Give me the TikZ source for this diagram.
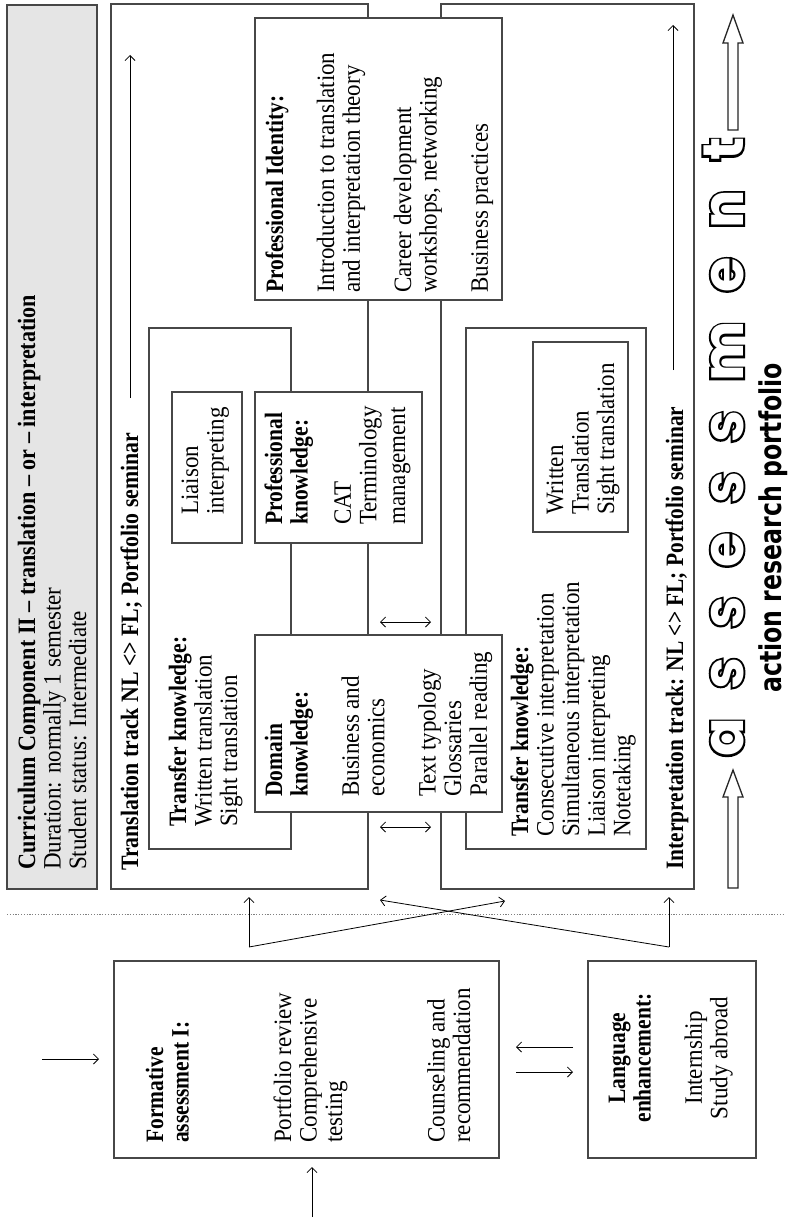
\documentclass[tikz,border=0pt]{standalone}
\usepackage{fontspec}
\usepackage{graphicx}
\setmainfont{Liberation Serif}[UprightFeatures={FakeStretch=0.92}, BoldFeatures={FakeStretch=0.86}]
\newfontfamily\wordfont{Poppins}
\newfontfamily\wordrim{Poppins}[BoldFeatures={FakeBold=7}]
\newfontfamily\tagfont{DejaVu Sans}
\usetikzlibrary{arrows.meta}
\newcommand\textlines[1]{\begin{tabular}[t]{@{}l@{}}#1\end{tabular}}
\newcommand\textlinesc[1]{\begin{tabular}[t]{@{}c@{}}#1\end{tabular}}
\newcommand\assessword{\hbox to 619pt{a\hfill s\hfill s\hfill e\hfill s\hfill s\hfill m\hfill e\hfill n\hfill t}}

\begin{document}
\begin{tikzpicture}[x=1pt,y=-1pt,
  box/.style={draw=black!72, line width=1.1pt, fill=white, inner sep=0pt, outer sep=0pt, anchor=north west},
  lbl/.style={rotate=90, anchor=base west, inner sep=0pt, font=\fontsize{25}{25.6}\selectfont},
  lblc/.style={lbl, anchor=base},
  con/.style={line width=0.8pt, -{Straight Barb[length=5pt,width=10pt]}},
  dcon/.style={line width=0.8pt, {Straight Barb[length=5pt,width=10pt]}-{Straight Barb[length=5pt,width=10pt]}},
  hollow/.style={draw=black!85, line width=1.3pt, fill=white, line join=miter}
]
\useasboundingbox (0,0) rectangle (793,1220);
\fill[white] (0,0) rectangle (793,1220);

% frames of the two tracks and the header
\node[box, fill=black!10, minimum width=90pt, minimum height=884pt] (cc) at (7,5) {};
\node[box, minimum width=257pt, minimum height=885pt] (trans) at (111,4) {};
\node[box, minimum width=253pt, minimum height=885pt] (interp) at (441,4) {};
\node[box, minimum width=142pt, minimum height=521pt] (transIn) at (149,328) {};
\node[box, minimum width=180pt, minimum height=521pt] (interpIn) at (466,328) {};
\node[box, minimum width=70pt, minimum height=151pt] (liaison) at (172,392) {};
\node[box, minimum width=95pt, minimum height=190pt] (written) at (533,342) {};
% shared blocks lying across both tracks
\node[box, minimum width=247pt, minimum height=282pt] (ident) at (255,18) {};
\node[box, minimum width=167pt, minimum height=151pt] (profk) at (255,392) {};
\node[box, minimum width=247pt, minimum height=177pt] (domain) at (255,635) {};
% first-stage blocks
\node[box, minimum width=385pt, minimum height=197pt] (form) at (114,961) {};
\node[box, minimum width=168pt, minimum height=197pt] (lang) at (588,961) {};

% texts
\node[lbl] (ccT) at (35,870) {\textlines{\resizebox{575pt}{\height}{\textbf{Curriculum Component II – translation – or – interpretation}}\\Duration: normally 1 semester\\Student status: Intermediate}};
\node[lbl] (transT) at (138,871) {\resizebox{438pt}{\height}{\textbf{Translation track NL <> FL; Portfolio seminar}}};
\node[lbl] (transInT) at (186,827) {\textlines{\textbf{Transfer knowledge:}\\Written translation\\Sight translation}};
\node[lbl] (liaisonT) at (198,515) {\textlines{Liaison\\interpreting}};
\node[lbl] (profkT) at (282,525) {\textlines{\textbf{Professional}\\\textbf{knowledge:}\\[-8pt] \\CAT\\Terminology\\[3pt]management}};
\node[lbl] (domainT) at (282,797) {\textlines{\textbf{Domain}\\\textbf{knowledge:}\\ \\Business and\\economics\\ \\Text typology\\Glossaries\\Parallel reading}};
\node[lbl] (identT) at (283,293) {\textlines{\textbf{Professional Identity:}\\ \\Introduction to translation\\and interpretation theory\\ \\Career development\\workshops, networking\\ \\Business practices}};
\node[lbl] (interpInT) at (528,837) {\textlines{\textbf{Transfer knowledge:}\\Consecutive interpretation\\Simultaneous interpretation\\Liaison interpreting\\Notetaking}};
\node[lbl] (writtenT) at (563,515) {\textlines{Written\\Translation\\Sight translation}};
\node[lbl] (interpT) at (683,870) {\resizebox{463pt}{\height}{\textbf{Interpretation track: NL <> FL; Portfolio seminar}}};
\node[lbl] (formT) at (163,1143) {\textlines{\textbf{Formative}\\\textbf{assessment I:}\\ \\ \\ \\Portfolio review\\Comprehensive\\testing\\ \\ \\ \\Counseling and\\recommendation}};
\node[lblc] (langT) at (625,1058) {\textlinesc{\textbf{Language}\\\textbf{enhancement:}\\ \\Internship\\Study abroad}};

% flow arrows inside the tracks
\coordinate (tA) at (130,398); \coordinate (tB) at (130,55);
\draw[con] (tA) -- (tB);
\coordinate (iA) at (673,370); \coordinate (iB) at (673,25);
\draw[con] (iA) -- (iB);

% exchange between the tracks
\coordinate (rowC) at (0,622); \coordinate (rowD) at (0,827);
\draw[dcon, shorten <=12pt, shorten >=10pt] (trans.east |- rowC) -- (interp.west |- rowC);
\draw[dcon, shorten <=12pt, shorten >=10pt] (trans.east |- rowD) -- (interp.west |- rowD);

% stage separator
\draw[black!50, line width=0.9pt, dash pattern=on 1.2pt off 1.6pt] (7,914) -- (785,914);

% entry into the tracks
\coordinate (fa) at (249,947);
\coordinate (lp) at (669,947);
\coordinate (tipI) at (505,901);
\coordinate (tipT) at (380,900);
\draw[con, shorten >=8pt] (fa) -- (fa |- trans.south);
\draw[con] (fa) -- (tipI);
\draw[con, shorten >=8pt] (lp) -- (lp |- interp.south);
\draw[con] (lp) -- (tipT);

% first stage
\coordinate (inL) at (42,1059);
\coordinate (inB) at (312,1217);
\draw[con, shorten >=15pt] (inL) -- (inL -| form.west);
\draw[con, shorten >=9pt] (inB) -- (inB |- form.south);
\coordinate (rowA) at (0,1047); \coordinate (rowB) at (0,1072);
\draw[con, shorten <=15pt, shorten >=17pt] (lang.west |- rowA) -- (form.east |- rowA);
\draw[con, shorten <=17pt, shorten >=15pt] (form.east |- rowB) -- (lang.west |- rowB);

% assessment banner
\draw[hollow] (728,888) -- (728,797) -- (723,797) -- (733,770) -- (743,797) -- (738,797) -- (738,888) -- cycle;
\draw[hollow] (728,130) -- (728,43) -- (723,43) -- (733,15) -- (743,43) -- (738,43) -- (738,130) -- cycle;
\node[rotate=90, anchor=base west, inner sep=0pt, font=\wordrim\bfseries\fontsize{57}{57}\selectfont] (asmtRim) at (743,757) {\assessword};
\node[rotate=90, anchor=base west, inner sep=0pt, text=white, font=\wordfont\bfseries\fontsize{57}{57}\selectfont] (asmt) at (743,757) {\assessword};
\node[rotate=90, anchor=base west, inner sep=0pt, font=\tagfont\bfseries\fontsize{30}{30}\selectfont] (arp) at (781,693) {\resizebox{330pt}{\height}{action research portfolio}};
\end{tikzpicture}
\end{document}
